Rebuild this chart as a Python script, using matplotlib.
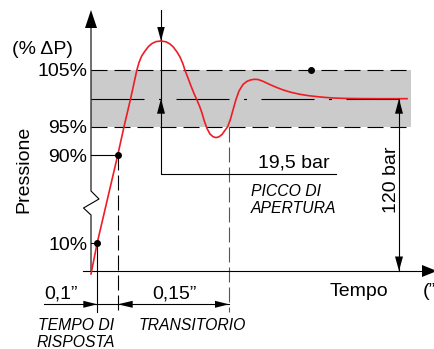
"""Schema della risposta in pressione (transitorio di apertura)."""

import numpy as _np
import matplotlib
matplotlib.use('Agg')
import matplotlib.pyplot as _plt

_plt.rcParams['font.family'] = ['Liberation Sans', 'DejaVu Sans']
_plt.rcParams['lines.scale_dashes'] = False

# diagram frame (pixel units of the drawing, y grows downwards)
axis_x0 = 91.0
axis_y0 = 271.0
axis_top = 10.0
axis_right = 437.0

# pressure levels
level_labels = ['105%', '95%', '90%', '10%']
level_y = [70.3, 126.7, 155.3, 242.5]
level_base = [76.0, 133.0, 162.0, 250.0]
band_top = 70.3
band_mid = 98.7
band_bottom = 126.7
band_right = 411.0

# red pressure curve (time, pressure)
curve_x = [91.0, 97.3, 117.7, 124.0, 130.6, 136.8, 139.0, 141.7, 145.0,
           148.3, 152.0, 156.0, 161.0, 166.0, 170.0, 173.3, 177.0, 180.0,
           183.0, 185.0, 188.0, 191.0, 194.0, 196.7, 199.5, 202.0, 204.3,
           207.0, 210.0, 213.0, 216.0, 219.0, 222.0, 224.5, 227.7, 230.5,
           233.0, 236.0, 239.0, 243.0, 247.0, 251.0, 254.5, 258.0, 263.0,
           270.0, 277.0, 283.3, 291.0, 300.0, 308.0, 316.7, 325.0, 333.3,
           345.0, 360.0, 380.0, 407.0]
curve_y = [274.0, 242.5, 155.3, 126.7, 98.7, 70.3, 62.5, 56.0, 51.0,
           46.7, 43.5, 41.6, 41.0, 41.8, 44.0, 47.0, 52.0, 57.0,
           64.0, 70.3, 78.0, 86.0, 93.5, 99.5, 106.0, 113.0, 121.0,
           128.5, 134.0, 136.7, 137.6, 136.8, 134.5, 131.0, 126.7, 119.0,
           110.0, 99.5, 91.0, 84.5, 81.3, 79.8, 79.3, 79.5, 81.3,
           84.6, 87.6, 90.0, 92.3, 94.3, 95.6, 96.6, 97.4, 98.0,
           98.4, 98.6, 98.7, 98.7]

# marked points
dots_x = [97.3, 117.7, 310.7]
dots_y = [242.5, 155.3, 70.3]

# y-axis break (zigzag)
zig_x = [91.0, 91.0, 83.5, 99.0, 91.0, 91.0]
zig_y = [axis_y0, 215.0, 208.0, 199.0, 191.0, axis_top + 10]

# peak / settling dimension lines
peak_x = 161.0
peak_y = 41.0
peak_ref_y = 174.0
peak_ref_end = 336.0
settle_x = 399.0

# time dimension row
dim_y = 304.3
t_start = 44.0
t_10 = 97.3
t_90 = 117.7
t_end = 229.0
dim_bottom = 311.7

# arrowheads: tip x, tip y, direction, length, width
heads = [
    (axis_x0, axis_top, 'up', 18, 12),
    (axis_right, axis_y0, 'right', 15, 12),
    (peak_x, peak_y, 'down', 14, 7.5),
    (peak_x, band_mid, 'up', 15, 8),
    (settle_x, band_mid, 'up', 15, 8),
    (settle_x, axis_y0, 'down', 14.5, 8),
    (t_10, dim_y, 'right', 14, 7),
    (t_90, dim_y, 'left', 15, 7),
    (t_end, dim_y, 'right', 14, 7),
]

RED = '#ee1c25'
GREY = '#cbcbcb'
LW = 0.8


def px(v):
    """Pixel length to points (dpi 100)."""
    return v * 0.72


def draw_head(ax, x, y, direction, length, width):
    """Draw a filled arrowhead with its tip at (x, y)."""
    d = {'up': (0, -1), 'down': (0, 1), 'left': (-1, 0), 'right': (1, 0)}
    dx, dy = d[direction]
    bx, by = x - dx*length, y - dy*length
    nx, ny = -dy, dx
    xs = [x, bx + nx*width/2, bx - nx*width/2]
    ys = [y, by + ny*width/2, by - ny*width/2]
    ax.fill(xs, ys, color='k', lw=0, zorder=6)


fig = _plt.figure(figsize=(4.34, 3.49), dpi=100)
ax = fig.add_axes([0, 0, 1, 1])
ax.set_xlim(0, 434)
ax.set_ylim(349, 0)
ax.axis('off')

# tolerance band
ax.fill_between([axis_x0, band_right], band_top, band_bottom,
                color=GREY, lw=0, zorder=1)
band_dash = (0, (px(16), px(7)))
ax.plot([axis_x0, band_right], [band_top, band_top], color='k', lw=LW,
        ls=band_dash, zorder=2)
ax.plot([axis_x0, band_right], [band_bottom, band_bottom], color='k', lw=LW,
        ls=band_dash, zorder=2)
ax.plot([axis_x0, 407.0], [band_mid, band_mid], color='k', lw=LW,
        ls=(0, (px(53), px(14.5), px(3), px(14.5))), zorder=2)

# axes
ax.plot(zig_x, zig_y, color='k', lw=LW, zorder=3)
ax.plot([83.0, axis_right - 10], [axis_y0, axis_y0], color='k', lw=LW,
        zorder=3)

# level ticks
ax.plot([axis_x0, t_90], [level_y[2], level_y[2]], color='k', lw=LW)
ax.plot([axis_x0, t_10], [level_y[3], level_y[3]], color='k', lw=LW)
ax.plot([t_10, t_10], [level_y[3], dim_bottom], color='k', lw=LW)
vdash = (0, (px(15), px(5)))
ax.plot([t_90, t_90], [level_y[2], dim_bottom], color='k', lw=LW, ls=vdash)
ax.plot([t_end, t_end], [band_bottom, dim_bottom], color='#555555', lw=LW,
        ls=vdash)

# peak and settling dimension lines
ax.plot([peak_x, peak_x, peak_ref_end], [axis_top, peak_ref_y, peak_ref_y],
        color='k', lw=LW, zorder=3)
ax.plot([settle_x, settle_x], [band_mid, axis_y0], color='k', lw=LW,
        zorder=3)

# time dimension row
ax.plot([t_start, t_end], [dim_y, dim_y], color='k', lw=LW)

for h in heads:
    draw_head(ax, *h)

# curve
ax.plot(curve_x, curve_y, color=RED, lw=1.2, zorder=5,
        solid_joinstyle='round')
ax.plot(dots_x, dots_y, 'o', color='k', ms=4, zorder=7)

# texts
fs = 14
fsi = 11.3
for lab, yb in zip(level_labels, level_base):
    ax.text(87.5, yb, lab, ha='right', va='baseline', fontsize=fs)
ax.text(12.5, 53.5, '(% \u0394P)', ha='left', va='baseline', fontsize=fs)
ax.text(28.5, 169.0, 'Pressione', rotation=90, rotation_mode='anchor',
        ha='center', va='baseline', fontsize=fs)
ax.text(395.5, 179.7, '120 bar', rotation=90, rotation_mode='anchor',
        ha='center', va='baseline', fontsize=fs)
ax.text(258.3, 167.3, '19,5 bar', ha='left', va='baseline', fontsize=fs)
ax.text(330.0, 296.0, 'Tempo', ha='left', va='baseline', fontsize=fs)
ax.text(422.7, 296.0, '(\u201d', ha='left', va='baseline', fontsize=fs)
ax.text(44.3, 298.3, '0,1\u201d', ha='left', va='baseline', fontsize=fs)
ax.text(152.7, 298.3, '0,15\u201d', ha='left', va='baseline', fontsize=fs)
ax.text(38.3, 330.0, 'TEMPO DI', ha='left', va='baseline', fontsize=fsi,
        style='italic')
ax.text(36.7, 346.7, 'RISPOSTA', ha='left', va='baseline', fontsize=fsi,
        style='italic')
ax.text(138.3, 330.0, 'TRANSITORIO', ha='left', va='baseline', fontsize=fsi,
        style='italic')
ax.text(250.7, 195.7, 'PICCO DI', ha='left', va='baseline', fontsize=fsi,
        style='italic')
ax.text(250.7, 212.7, 'APERTURA', ha='left', va='baseline', fontsize=fsi,
        style='italic')

fig.savefig('out.png', dpi=100)
